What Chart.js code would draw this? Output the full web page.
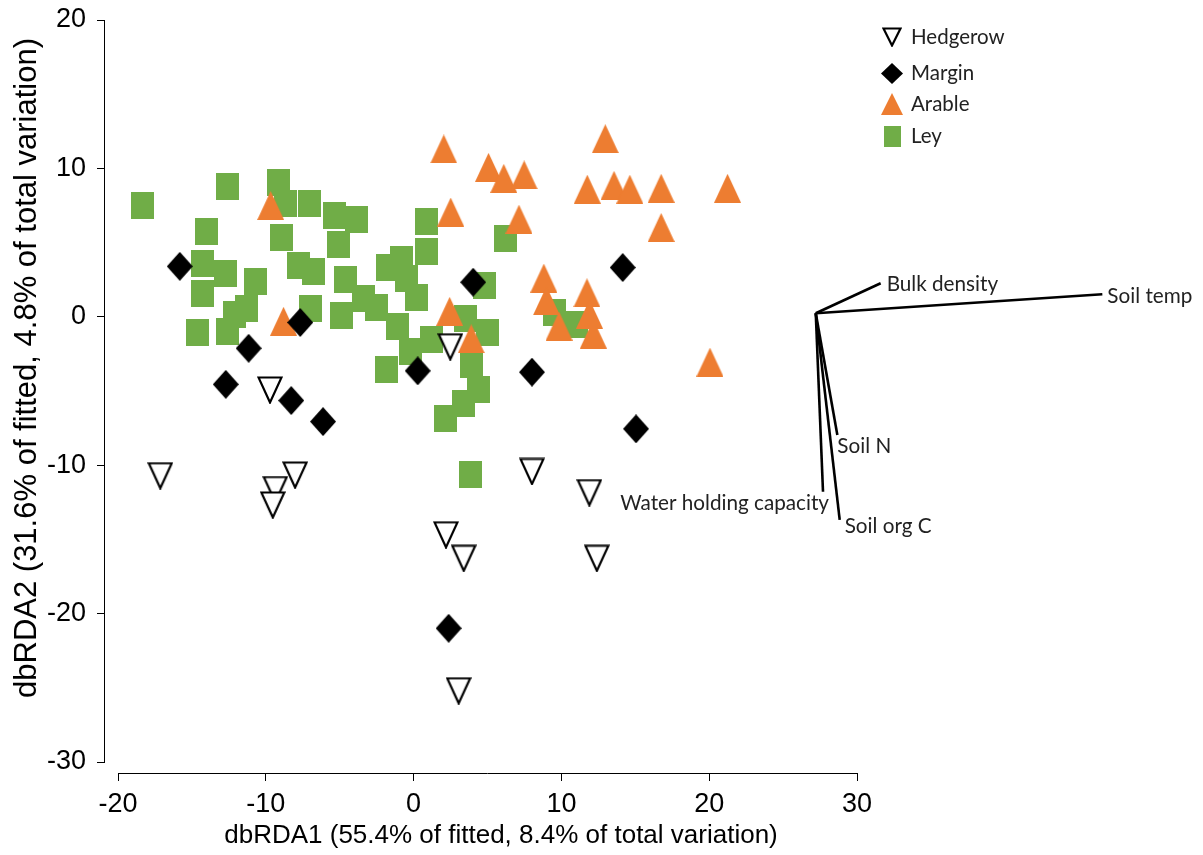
<!DOCTYPE html>
<html>
<head>
<meta charset="utf-8">
<title>dbRDA</title>
<script src="https://cdn.jsdelivr.net/npm/chart.js@4.4.1/dist/chart.umd.min.js"></script>
<style>
  html, body { margin: 0; padding: 0; background: #fff; }
  #caixa { width: 1203px; height: 855px; }
</style>
</head>
<body>
<div id="caixa"><canvas id="grafico"></canvas></div>
<script>
// Site scores on dbRDA1 / dbRDA2, one pair of arrays per habitat
const hedgerowX = [-17.14, -9.72, -8.02, -9.36, -9.53, 2.48, 2.19, 3.39, 3.05, 8.01, 11.89, 12.40];
const hedgerowY = [-10.71, -4.93, -10.66, -11.64, -12.68, -2.02, -14.69, -16.27, -25.20, -10.42, -11.85, -16.27];

const marginX = [-15.82, -11.16, -12.71, -8.28, -7.67, -6.13, 0.28, 4.03, 8.01, 14.15, 15.05, 2.37];
const marginY = [3.40, -2.12, -4.55, -5.64, -0.38, -7.06, -3.64, 2.33, -3.73, 3.32, -7.55, -20.99];

const arableX = [-9.67, -8.80, 2.04, 2.51, 5.07, 6.10, 7.48, 7.13, 2.44, 3.90, 8.81, 8.99, 9.84, 12.16, 11.73, 11.90, 12.97, 11.75, 13.56, 14.63, 16.75, 21.24, 16.75, 20.05];
const arableY = [7.50, -0.30, 11.31, 7.06, 10.07, 9.33, 9.56, 6.58, 0.37, -1.48, 2.61, 1.08, -0.63, -1.16, 1.62, 0.18, 12.00, 8.60, 8.86, 8.60, 8.66, 8.66, 6.02, -3.05];

const leyX = [-18.33, -12.58, -9.13, -8.65, -7.06, -5.34, -3.83, -14.03, -8.94, -5.08, -14.30, -12.74, -7.79, -6.76, -1.75, -10.68, -14.26, -4.63, -3.38, -2.48, -6.99, -4.89, -11.29, -12.13, -14.61, -12.58, -1.12, -0.50, 0.18, 1.23, -0.22, 3.50, 5.01, 3.95, 4.42, 3.38, 2.14, 3.88, 4.78, 0.89, 0.89, -0.80, -1.85, 6.23, 9.50, 10.99];
const leyY = [7.48, 8.79, 9.02, 7.62, 7.61, 6.81, 6.54, 5.73, 5.34, 4.85, 3.61, 2.93, 3.47, 3.02, 3.31, 2.37, 1.57, 2.53, 1.20, 0.64, 0.54, 0.12, 0.57, 0.17, -1.07, -1.00, -0.62, 2.59, 1.33, -1.52, -2.35, -0.10, -1.07, -3.23, -4.89, -5.83, -6.84, -10.61, 2.08, 6.42, 4.39, 3.89, -3.56, 5.29, 0.32, -0.52];

// Environmental vectors (biplot arrows), all drawn from one origin
const vectorNames = ['Bulk density', 'Soil temp', 'Soil N', 'Soil org C', 'Water holding capacity'];
const vectorOrigin = [27.21, 0.24];
const vectorX = [31.60, 46.60, 28.67, 28.83, 27.70];
const vectorY = [2.26, 1.52, -7.96, -13.68, -11.79];

const xTicks = [-20, -10, 0, 10, 20, 30];
const yTicks = [-30, -20, -10, 0, 10, 20];
const xTitle = 'dbRDA1 (55.4% of fitted, 8.4% of total variation)';
const yTitle = 'dbRDA2 (31.6% of fitted, 4.8% of total variation)';
const groupNames = ['Hedgerow', 'Margin', 'Arable', 'Ley'];

// where each vector label sits relative to the arrow tip (px)
const vectorLabelPos = [
    { dx: 6, dy: 8, align: 'left' },
    { dx: 5, dy: 9, align: 'left' },
    { dx: 0, dy: 18, align: 'left' },
    { dx: 5, dy: 13, align: 'left' },
    { dx: 6, dy: 18, align: 'right' }
];

// Builds a marker as a small canvas so the shapes can be a bit taller than wide
function makeMarker(shape, w, h, color) {
    const c = document.createElement('canvas');
    c.width = w;
    c.height = h;
    const g = c.getContext('2d');
    g.fillStyle = color;
    g.beginPath();
    if (shape === 'square') {
        g.rect(0, 0, w, h);
        g.fill();
    } else if (shape === 'diamond') {
        g.moveTo(w / 2, 0); g.lineTo(w, h / 2); g.lineTo(w / 2, h); g.lineTo(0, h / 2);
        g.closePath();
        g.fill();
    } else if (shape === 'triangle') {
        g.moveTo(w / 2, 0); g.lineTo(w, h); g.lineTo(0, h);
        g.closePath();
        g.fill();
    } else {
        // open, pointing down
        const m = 1.5;
        g.moveTo(m, m); g.lineTo(w - m, m); g.lineTo(w / 2, h - m);
        g.closePath();
        g.fillStyle = '#fff';
        g.fill();
        g.lineWidth = 2.2;
        g.strokeStyle = color;
        g.lineJoin = 'miter';
        g.stroke();
    }
    return c;
}

function toPoints(xs, ys) {
    return xs.map((x, i) => ({ x: x, y: ys[i] }));
}

// no extra room for the end tick labels, the plot edges are fixed by the layout
function noScalePadding(s) {
    s.paddingTop = 0;
    s.paddingBottom = 0;
    s.paddingLeft = 0;
    s.paddingRight = 0;
}

function drawChart() {
    const markers = {
        Hedgerow: makeMarker('open', 26, 28, '#000'),
        Margin: makeMarker('diamond', 26, 29, '#000'),
        Arable: makeMarker('triangle', 27, 29, '#ED7D31'),
        Ley: makeMarker('square', 23, 27, '#70AD47')
    };
    const legendMarkers = {
        Hedgerow: makeMarker('open', 20, 20, '#000'),
        Margin: makeMarker('diamond', 22, 21, '#000'),
        Arable: makeMarker('triangle', 22, 22, '#ED7D31'),
        Ley: makeMarker('square', 17, 21, '#70AD47')
    };

    // arrows as two-point line datasets
    const vectorSets = vectorNames.map((name, i) => ({
        type: 'line',
        label: name,
        data: [{ x: vectorOrigin[0], y: vectorOrigin[1] }, { x: vectorX[i], y: vectorY[i] }],
        borderColor: '#000',
        borderWidth: 2.6,
        pointRadius: 0,
        clip: false,
        order: 5
    }));

    // extra drawing: axis lines, titles, legend and vector labels
    const extras = {
        id: 'extras',
        afterDraw(chart) {
            const ctx = chart.ctx;
            const sx = chart.scales.x;
            const sy = chart.scales.y;
            const area = chart.chartArea;
            ctx.save();

            // Axis lines only across the tick range, as in the figure
            ctx.strokeStyle = '#000';
            ctx.lineWidth = 1;
            ctx.beginPath();
            ctx.moveTo(sx.getPixelForValue(xTicks[0]), area.bottom + 0.5);
            ctx.lineTo(sx.getPixelForValue(xTicks[xTicks.length - 1]), area.bottom + 0.5);
            ctx.moveTo(area.left - 0.5, sy.getPixelForValue(yTicks[yTicks.length - 1]));
            ctx.lineTo(area.left - 0.5, sy.getPixelForValue(yTicks[0]));
            ctx.stroke();

            // Axis titles
            ctx.fillStyle = '#000';
            ctx.textBaseline = 'middle';
            ctx.textAlign = 'center';
            ctx.font = '26px "Liberation Sans", Arial, sans-serif';
            ctx.fillText(xTitle, 501, 836);
            ctx.save();
            ctx.translate(27, 368);
            ctx.rotate(-Math.PI / 2);
            ctx.font = '31px "Liberation Sans", Arial, sans-serif';
            ctx.fillText(yTitle, 0, 0);
            ctx.restore();

            // Legend
            ctx.font = '20.5px Lato, sans-serif';
            ctx.textAlign = 'left';
            const rowsY = [37, 73, 104, 136];
            groupNames.forEach((name, i) => {
                const m = legendMarkers[name];
                ctx.drawImage(m, Math.round(892 - m.width / 2), Math.round(rowsY[i] - m.height / 2));
                ctx.fillStyle = '#222';
                ctx.fillText(name, 911, rowsY[i]);
            });

            // Vector labels
            ctx.font = '20.7px Lato, sans-serif';
            ctx.textBaseline = 'alphabetic';
            ctx.fillStyle = '#222';
            vectorNames.forEach((name, i) => {
                const p = vectorLabelPos[i];
                ctx.textAlign = p.align;
                ctx.fillText(name, sx.getPixelForValue(vectorX[i]) + p.dx, sy.getPixelForValue(vectorY[i]) + p.dy);
            });
            ctx.restore();
        }
    };

    new Chart(document.getElementById('grafico'), {
        type: 'scatter',
        data: {
            datasets: [
                { label: 'Margin', data: toPoints(marginX, marginY), pointStyle: markers.Margin, order: 1 },
                { label: 'Hedgerow', data: toPoints(hedgerowX, hedgerowY), pointStyle: markers.Hedgerow, order: 2 },
                { label: 'Arable', data: toPoints(arableX, arableY), pointStyle: markers.Arable, order: 3 },
                { label: 'Ley', data: toPoints(leyX, leyY), pointStyle: markers.Ley, order: 4 }
            ].concat(vectorSets)
        },
        options: {
            responsive: true,
            maintainAspectRatio: false,
            animation: false,
            events: [],
            layout: { padding: { left: 0, right: 346, top: 20, bottom: 0 } },
            plugins: {
                legend: { display: false },
                tooltip: { enabled: false }
            },
            scales: {
                x: {
                    type: 'linear',
                    min: -20.88,
                    max: 30,
                    afterFit: function (s) { s.height = 82; noScalePadding(s); },
                    afterBuildTicks: function (s) { s.ticks = xTicks.map(v => ({ value: v })); },
                    border: { display: false },
                    grid: { display: true, drawOnChartArea: false, drawTicks: true, tickLength: 8, color: '#000', lineWidth: 1 },
                    ticks: { color: '#000', padding: 7, maxRotation: 0, font: { family: '"Liberation Sans", Arial, sans-serif', size: 27 } }
                },
                y: {
                    type: 'linear',
                    min: -30.74,
                    max: 20,
                    afterFit: function (s) { s.width = 105; noScalePadding(s); },
                    afterBuildTicks: function (s) { s.ticks = yTicks.map(v => ({ value: v })); },
                    border: { display: false },
                    grid: { display: true, drawOnChartArea: false, drawTicks: true, tickLength: 8, color: '#000', lineWidth: 1 },
                    ticks: { color: '#000', padding: 11, font: { family: '"Liberation Sans", Arial, sans-serif', size: 27 } }
                }
            }
        },
        plugins: [extras]
    });
}

document.addEventListener('DOMContentLoaded', function () {
    // make sure Lato is ready before the canvas text is drawn
    document.fonts.load('20px Lato').then(drawChart, drawChart);
});
</script>
</body>
</html>
